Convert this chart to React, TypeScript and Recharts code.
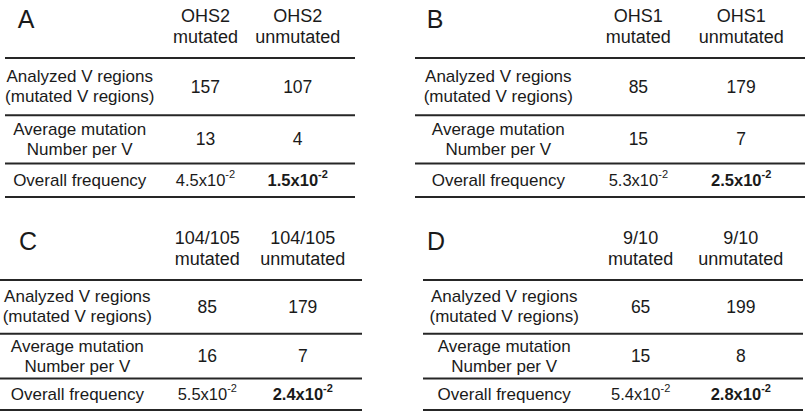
import { ComposedChart, ReferenceLine, Scatter, XAxis, YAxis } from "recharts";

const PANEL_LETTERS = ["A", "B", "C", "D"];
const GROUPS = ["OHS2", "OHS1", "104/105", "9/10"];
const COLUMNS = ["mutated", "unmutated"];
const ROW_LABELS = [
  ["Analyzed V regions", "(mutated V regions)"],
  ["Average mutation", "Number per V"],
  ["Overall frequency"],
];
const ANALYZED_MUTATED = [157, 85, 85, 65];
const ANALYZED_UNMUTATED = [107, 179, 179, 199];
const AVG_MUTATED = [13, 15, 16, 15];
const AVG_UNMUTATED = [4, 7, 7, 8];
const FREQ_MUTATED = [4.5, 5.3, 5.5, 5.4];
const FREQ_UNMUTATED = [1.5, 2.5, 2.4, 2.8];
const FREQ_EXPONENT = -2;

// layout (table units): x domain 0..11, column centres; row heights
const X_MAX = 11;
const COL_X = [2.35, 6.3, 9.2];
const ROW_WEIGHTS = [5.55, 4.65, 3.25];

// where each panel sits on the page
const PANELS = [
  { left: 0, top: 0, width: 403, height: 206, tableLeft: 5, tableRight: 355, lineTop: 58, lineBottom: 197, letterPx: 21 },
  { left: 403, top: 0, width: 404, height: 206, tableLeft: 12, tableRight: 402, lineTop: 58, lineBottom: 197, letterPx: 20 },
  { left: 0, top: 206, width: 403, height: 206, tableLeft: 0, tableRight: 362, lineTop: 74, lineBottom: 204, letterPx: 28 },
  { left: 403, top: 206, width: 404, height: 206, tableLeft: 20, tableRight: 400, lineTop: 74, lineBottom: 204, letterPx: 13 },
];

const FONT = "'Liberation Sans', Arial, Helvetica, sans-serif";
const INK = "#1a1a1a";

const yTotal = ROW_WEIGHTS.reduce((a, b) => a + b, 0);
const rowEdges = ROW_WEIGHTS.reduce<number[]>((acc, w) => [...acc, acc[acc.length - 1] + w], [0]);
const rowCenters = ROW_WEIGHTS.map((w, i) => rowEdges[i] + w / 2);

interface Cell {
  x: number;
  y: number;
  lines?: string[];
  text?: string;
  exp?: number;
  bold?: boolean;
}

function buildCells(p: number): Cell[] {
  const cells: Cell[] = [];
  ROW_LABELS.forEach((lines, r) => cells.push({ x: COL_X[0], y: rowCenters[r], lines }));
  cells.push({ x: COL_X[1], y: rowCenters[0], text: String(ANALYZED_MUTATED[p]) });
  cells.push({ x: COL_X[2], y: rowCenters[0], text: String(ANALYZED_UNMUTATED[p]) });
  cells.push({ x: COL_X[1], y: rowCenters[1], text: String(AVG_MUTATED[p]) });
  cells.push({ x: COL_X[2], y: rowCenters[1], text: String(AVG_UNMUTATED[p]) });
  cells.push({ x: COL_X[1], y: rowCenters[2], text: `${FREQ_MUTATED[p]}x10`, exp: FREQ_EXPONENT });
  cells.push({ x: COL_X[2], y: rowCenters[2], text: `${FREQ_UNMUTATED[p]}x10`, exp: FREQ_EXPONENT, bold: true });
  return cells;
}

function CellShape(props: any) {
  const { cx, cy, payload } = props;
  const c: Cell = payload;
  if (c.lines) {
    const gap = c.lines.length > 1 ? 20 : 0;
    return (
      <g>
        {c.lines.map((t, i) => (
          <text
            key={i}
            x={cx}
            y={cy + (i - (c.lines!.length - 1) / 2) * gap}
            textAnchor="middle"
            dominantBaseline="central"
            fontFamily={FONT}
            fontSize={17}
            fill={INK}
          >
            {t}
          </text>
        ))}
      </g>
    );
  }
  return (
    <text
      x={cx}
      y={cy}
      textAnchor="middle"
      dominantBaseline="central"
      fontFamily={FONT}
      fontSize={c.exp !== undefined ? 16.5 : 17.5}
      fontWeight={c.bold ? "bold" : "normal"}
      fill={INK}
    >
      {c.text}
      {c.exp !== undefined && (
        <tspan fontSize={11} dy={-6}>
          {c.exp}
        </tspan>
      )}
    </text>
  );
}

function Panel({ p }: { p: number }) {
  const g = PANELS[p];
  const plotW = g.tableRight - g.tableLeft;
  const letterX = (g.letterPx / plotW) * X_MAX;
  const data = buildCells(p);

  const renderTick = (props: any) => {
    const { x, y, index } = props;
    if (index === 0) {
      return (
        <text x={x} y={y - 39} textAnchor="middle" dominantBaseline="central" fontFamily={FONT} fontSize={25} fill={INK}>
          {PANEL_LETTERS[p]}
        </text>
      );
    }
    return (
      <g>
        <text x={x} y={y - 42} textAnchor="middle" dominantBaseline="central" fontFamily={FONT} fontSize={18} fill={INK}>
          {GROUPS[p]}
        </text>
        <text x={x} y={y - 21} textAnchor="middle" dominantBaseline="central" fontFamily={FONT} fontSize={18} fill={INK}>
          {COLUMNS[index - 1]}
        </text>
      </g>
    );
  };

  return (
    <div style={{ position: "absolute", left: g.left, top: g.top }}>
      <ComposedChart
        width={g.width}
        height={g.height}
        data={data}
        margin={{ top: 0, right: g.width - g.tableRight, bottom: g.height - g.lineBottom, left: g.tableLeft }}
      >
        <XAxis
          type="number"
          dataKey="x"
          orientation="top"
          domain={[0, X_MAX]}
          ticks={[letterX, COL_X[1], COL_X[2]]}
          interval={0}
          height={g.lineTop}
          axisLine={false}
          tickLine={false}
          tickSize={0}
          tickMargin={0}
          tick={renderTick}
        />
        <YAxis type="number" dataKey="y" domain={[0, yTotal]} reversed hide />
        {rowEdges.map((e) => (
          <ReferenceLine key={e} y={e} stroke="#262626" strokeWidth={2} />
        ))}
        <Scatter dataKey="y" shape={CellShape} isAnimationActive={false} />
      </ComposedChart>
    </div>
  );
}

export default function App() {
  return (
    <div style={{ position: "relative", width: 807, height: 412, background: "#fff" }}>
      <style>{"body{margin:0}"}</style>
      {PANELS.map((_, p) => (
        <Panel key={p} p={p} />
      ))}
    </div>
  );
}
